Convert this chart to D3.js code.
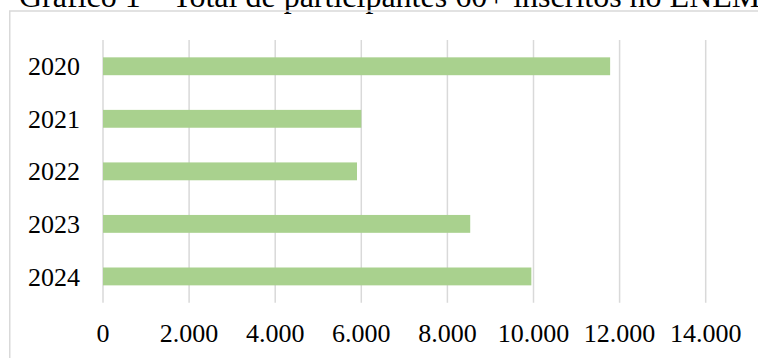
<!DOCTYPE html>
<html lang="pt">
<head>
    <meta charset="UTF-8">
    <title>Gráfico 1</title>
    <script src="https://d3js.org/d3.v7.min.js"></script>
    <style>
        html, body { margin: 0; padding: 0; background: #fff; overflow: hidden; }
        text { font-family: "Liberation Serif", "Times New Roman", serif; fill: #000; }
    </style>
</head>
<body>
    <svg id="chart" width="758" height="358"></svg>

    <script>
        // dados
        var anos = ["2020", "2021", "2022", "2023", "2024"]
        var participantes = [11780, 6000, 5900, 8530, 9950]
        var ticks = [0, 2000, 4000, 6000, 8000, 10000, 12000, 14000]
        var titulo = "Gráfico 1 – Total de participantes 60+ inscritos no ENEM"

        var svg = d3.select("#chart")
        var plotLeft = 103, plotRight = 705.7, plotTop = 40, plotBottom = 302.7

        var x = d3.scaleLinear().domain([0, 14000]).range([plotLeft, plotRight])
        var y = d3.scaleBand().domain(anos).range([plotTop, plotBottom]).paddingInner(0.66).paddingOuter(0.33)

        // titulo (cortado no topo)
        svg.append("text")
            .attr("x", 19).attr("y", 7)
            .style("font-size", "32px")
            .text(titulo)

        // moldura do grafico
        svg.append("rect")
            .attr("x", 9.75).attr("y", 11)
            .attr("width", 800).attr("height", 400)
            .attr("fill", "none")
            .attr("stroke", "#d9d9d9")
            .attr("stroke-width", 1.5)

        // grade
        svg.append("g").selectAll("line")
            .data(ticks)
            .join("line")
            .attr("x1", d => x(d)).attr("x2", d => x(d))
            .attr("y1", plotTop).attr("y2", plotBottom)
            .attr("stroke", "#d9d9d9")
            .attr("stroke-width", 1.5)

        // barras
        var dados = anos.map((a, i) => ({ ano: a, valor: participantes[i] }))
        svg.append("g").selectAll("rect")
            .data(dados)
            .join("rect")
            .attr("x", x(0))
            .attr("y", d => y(d.ano))
            .attr("width", d => x(d.valor) - x(0))
            .attr("height", y.bandwidth())
            .attr("fill", "#a9d18e")

        // rotulos eixo y
        svg.append("g").selectAll("text")
            .data(anos)
            .join("text")
            .attr("x", 80)
            .attr("y", d => y(d) + y.bandwidth() / 2)
            .attr("dy", "0.35em")
            .attr("text-anchor", "end")
            .style("font-size", "26px")
            .text(d => d)

        // rotulos eixo x
        var fmt = d3.formatLocale({ decimal: ",", thousands: ".", grouping: [3], currency: ["R$", ""] }).format(",d")
        svg.append("g").selectAll("text")
            .data(ticks)
            .join("text")
            .attr("x", d => x(d))
            .attr("y", 342)
            .attr("text-anchor", "middle")
            .style("font-size", "26px")
            .text(d => fmt(d))
    </script>
</body>
</html>
